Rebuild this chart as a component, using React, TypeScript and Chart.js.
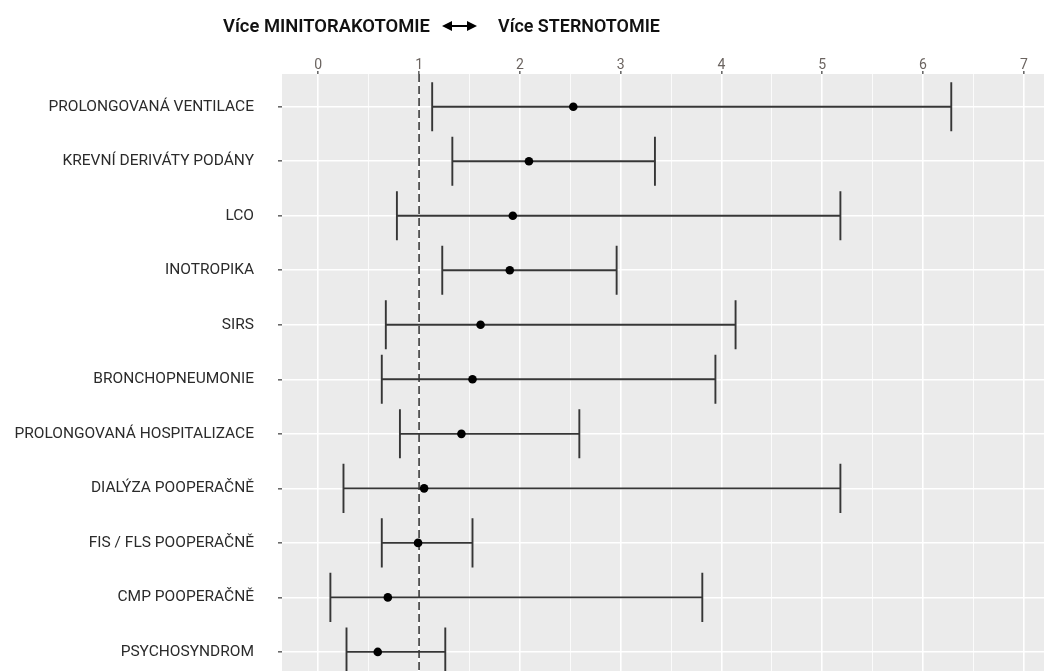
import React, { useEffect, useRef } from "react";
import { Chart, registerables } from "chart.js";

Chart.register(...registerables);

// ---- data ----
const categories = [
  "PROLONGOVANÁ VENTILACE",
  "KREVNÍ DERIVÁTY PODÁNY",
  "LCO",
  "INOTROPIKA",
  "SIRS",
  "BRONCHOPNEUMONIE",
  "PROLONGOVANÁ HOSPITALIZACE",
  "DIALÝZA POOPERAČNĚ",
  "FIS / FLS POOPERAČNĚ",
  "CMP POOPERAČNĚ",
  "PSYCHOSYNDROM",
];
const estimates = [2.53, 2.09, 1.93, 1.9, 1.61, 1.53, 1.42, 1.05, 0.99, 0.69, 0.59];
const lowerCI = [1.13, 1.33, 0.78, 1.23, 0.67, 0.63, 0.81, 0.25, 0.63, 0.12, 0.28];
const upperCI = [6.28, 3.34, 5.18, 2.96, 4.14, 3.94, 2.59, 5.18, 1.53, 3.81, 1.26];
const xTickValues = [0, 0.5, 1, 1.5, 2, 2.5, 3, 3.5, 4, 4.5, 5, 5.5, 6, 6.5, 7];
const referenceValue = 1;
const titleLeft = "Více MINITORAKOTOMIE";
const titleRight = "Více STERNOTOMIE";

const FONT = "Roboto, 'Open Sans', sans-serif";

const panelBg = {
  id: "panelBg",
  beforeDraw(chart: any) {
    const { ctx, chartArea: a } = chart;
    ctx.save();
    ctx.fillStyle = "#ffffff";
    ctx.fillRect(0, 0, chart.width, chart.height);
    ctx.fillStyle = "#EBEBEB";
    ctx.fillRect(a.left, a.top, a.right - a.left, a.bottom - a.top);
    ctx.restore();
  },
};

const errorBars = {
  id: "errorBars",
  beforeDatasetsDraw(chart: any) {
    const { ctx, chartArea: a } = chart;
    const xs = chart.scales.x;
    const ys = chart.scales.y;
    ctx.save();
    ctx.beginPath();
    ctx.rect(a.left, a.top, a.right - a.left, a.bottom - a.top);
    ctx.clip();

    // reference dashed line
    const xr = xs.getPixelForValue(referenceValue);
    ctx.strokeStyle = "#454545";
    ctx.lineWidth = 1.7;
    ctx.setLineDash([8, 4]);
    ctx.beginPath();
    ctx.moveTo(xr, a.top);
    ctx.lineTo(xr, a.bottom);
    ctx.stroke();
    ctx.setLineDash([]);

    // error bars
    ctx.strokeStyle = "#363636";
    ctx.lineWidth = 1.9;
    categories.forEach((_, i) => {
      const y = ys.getPixelForValue(i + 1);
      const half = Math.abs(ys.getPixelForValue(i + 1 + 0.45) - y);
      const xl = xs.getPixelForValue(lowerCI[i]);
      const xu = xs.getPixelForValue(upperCI[i]);
      ctx.beginPath();
      ctx.moveTo(xl, y);
      ctx.lineTo(xu, y);
      ctx.moveTo(xl, y - half);
      ctx.lineTo(xl, y + half);
      ctx.moveTo(xu, y - half);
      ctx.lineTo(xu, y + half);
      ctx.stroke();
    });
    ctx.restore();
  },
};

function fitFont(ctx: CanvasRenderingContext2D, text: string, target: number, weight: string) {
  ctx.font = `${weight} 20px ${FONT}`;
  const w = ctx.measureText(text).width;
  const size = (20 * target) / w;
  ctx.font = `${weight} ${size.toFixed(2)}px ${FONT}`;
}

const titlePlugin = {
  id: "titleArrow",
  afterDraw(chart: any) {
    const { ctx } = chart;
    ctx.save();
    ctx.fillStyle = "#111";
    ctx.textBaseline = "alphabetic";
    ctx.textAlign = "left";
    fitFont(ctx, titleLeft, 207, "600");
    ctx.fillText(titleLeft, 223, 32);
    fitFont(ctx, titleRight, 162, "600");
    ctx.fillText(titleRight, 498, 32);
    // double arrow
    const y = 26;
    const x1 = 442;
    const x2 = 477;
    ctx.strokeStyle = "#000";
    ctx.fillStyle = "#000";
    ctx.lineWidth = 2;
    ctx.beginPath();
    ctx.moveTo(x1 + 6, y);
    ctx.lineTo(x2 - 6, y);
    ctx.stroke();
    ctx.beginPath();
    ctx.moveTo(x1, y);
    ctx.lineTo(x1 + 10, y - 5);
    ctx.lineTo(x1 + 10, y + 5);
    ctx.closePath();
    ctx.fill();
    ctx.beginPath();
    ctx.moveTo(x2, y);
    ctx.lineTo(x2 - 10, y - 5);
    ctx.lineTo(x2 - 10, y + 5);
    ctx.closePath();
    ctx.fill();
    ctx.restore();
  },
};

const zeroPad = (s: any) => {
  s.paddingLeft = 0;
  s.paddingRight = 0;
  s.paddingTop = 0;
  s.paddingBottom = 0;
};

export default function App() {
  const ref = useRef<HTMLCanvasElement>(null);
  useEffect(() => {
    const chart = new Chart(ref.current as HTMLCanvasElement, {
      type: "scatter",
      data: {
        datasets: [
          {
            data: estimates.map((v, i) => ({ x: v, y: i + 1 })),
            backgroundColor: "#000",
            borderColor: "#000",
            pointRadius: 4.3,
            pointBorderWidth: 0,
            clip: false,
          },
        ],
      },
      options: {
        animation: false,
        responsive: false,
        devicePixelRatio: 1,
        layout: { padding: 0, autoPadding: false },
        plugins: { legend: { display: false }, tooltip: { enabled: false } },
        scales: {
          x: {
            type: "linear",
            position: "top",
            min: -0.36,
            max: 7.2,
            afterBuildTicks: (s: any) => {
              s.ticks = xTickValues.map((v) => ({ value: v }));
            },
            afterFit: (s: any) => {
              s.height = 74;
              zeroPad(s);
            },
            border: { display: false },
            grid: {
              color: "#ffffff",
              lineWidth: (c: any) => (Number.isInteger(c.tick?.value) ? 1.6 : 0.8),
              tickColor: (c: any) => (Number.isInteger(c.tick?.value) ? "#6a6a6a" : "rgba(0,0,0,0)"),
              tickLength: 3,
              drawTicks: true,
            },
            ticks: {
              autoSkip: false,
              maxRotation: 0,
              padding: -3,
              color: "#6b6460",
              font: { family: FONT, size: 14 },
              callback: (v: any) => (Number.isInteger(v) ? String(v) : ""),
            },
          },
          y: {
            type: "linear",
            reverse: true,
            min: 0.4,
            max: 11.35,
            afterBuildTicks: (s: any) => {
              s.ticks = categories.map((_, i) => ({ value: i + 1 }));
            },
            afterFit: (s: any) => {
              s.width = 282;
              zeroPad(s);
            },
            border: { display: false },
            grid: {
              color: "#ffffff",
              lineWidth: 1.6,
              tickColor: "#6a6a6a",
              tickLength: 4,
            },
            ticks: {
              autoSkip: false,
              padding: 24,
              color: "#2b2b2b",
              font: { family: FONT, size: 15.5 },
              callback: (v: any) => categories[Math.round(v) - 1] ?? "",
            },
          },
        },
      },
      plugins: [panelBg, errorBars, titlePlugin],
    } as any);
    return () => chart.destroy();
  }, []);
  return (
    <div style={{ position: "absolute", left: 0, top: 0, width: 1044, height: 671, background: "#fff" }}>
      <canvas ref={ref} width={1044} height={671} style={{ display: "block" }} />
    </div>
  );
}
